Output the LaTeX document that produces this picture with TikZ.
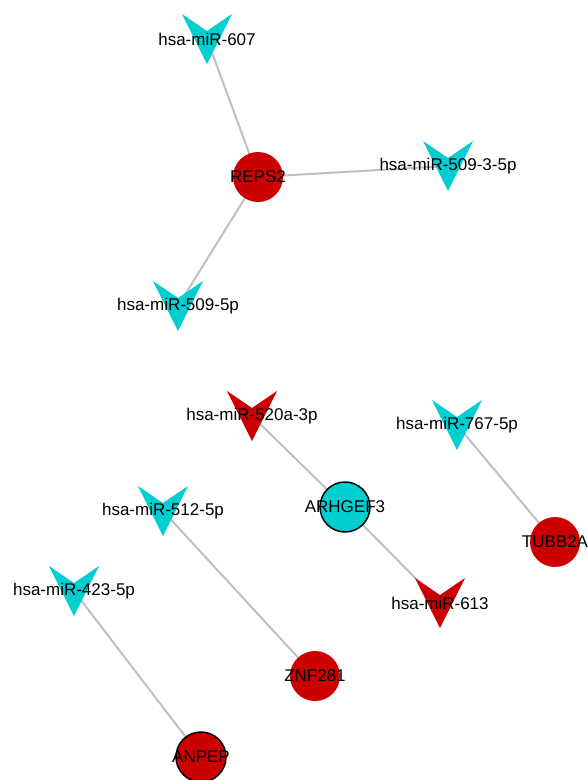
\documentclass[tikz,border=0pt]{standalone}
\usepackage{fontspec}
\setmainfont{Liberation Sans}
\usepackage{tikz}
\usetikzlibrary{backgrounds}
\definecolor{mirturq}{RGB}{0,206,209}
\definecolor{generouge}{RGB}{204,0,0}
\definecolor{liengris}{RGB}{192,192,192}

\tikzset{
  lbl/.style={inner sep=0pt, text=black},
  gene/.style={circle, minimum size=50pt, inner sep=0pt, text=black},
  edge/.style={draw=liengris, line width=2pt}
}
% V-shaped miRNA marker with its name on top
\newcommand{\mirna}[4]{%
  \fill[#3] (#2) ++(-25,-25) -- ++(25,17) -- ++(25,-17) -- ++(-25,50) -- cycle;
  \node[lbl] (#1) at (#2) {#4};}

\begin{document}
\begin{tikzpicture}[x=1pt, y=-1pt, font=\fontsize{17}{20}\selectfont]
  \useasboundingbox (0,0) rectangle (588,780);

  % genes
  \node[gene, fill=generouge] (reps2) at (258,177) {\makebox[0pt]{REPS2}};
  \node[gene, fill=mirturq, draw=black, line width=1.5pt] (arhgef3) at (345,507) {\makebox[0pt]{ARHGEF3}};
  \node[gene, fill=generouge] (tubb2a) at (555,542) {\makebox[0pt]{TUBB2A}};
  \node[gene, fill=generouge] (znf281) at (315,676) {\makebox[0pt]{ZNF281}};
  \node[gene, fill=generouge, draw=black, line width=1.5pt] (anpep) at (201,757) {\makebox[0pt]{ANPEP}};

  % miRNAs
  \mirna{m607}{207,39}{mirturq}{hsa-miR-607}
  \mirna{m5093}{448,166}{mirturq}{hsa-miR-509-3-5p}
  \mirna{m5095}{178,306}{mirturq}{hsa-miR-509-5p}
  \mirna{m520a}{252,416}{generouge}{hsa-miR-520a-3p}
  \mirna{m767}{457,425}{mirturq}{hsa-miR-767-5p}
  \mirna{m512}{163,511}{mirturq}{hsa-miR-512-5p}
  \mirna{m423}{74,591}{mirturq}{hsa-miR-423-5p}
  \mirna{m613}{440,603}{generouge}{hsa-miR-613}

  \begin{scope}[on background layer]
    \draw[edge] (reps2.center) -- (m607.center);
    \draw[edge] (reps2.center) -- (m5093.center);
    \draw[edge] (reps2.center) -- (m5095.center);
    \draw[edge] (arhgef3.center) -- (m520a.center);
    \draw[edge] (arhgef3.center) -- (m613.center);
    \draw[edge] (tubb2a.center) -- (m767.center);
    \draw[edge] (znf281.center) -- (m512.center);
    \draw[edge] (anpep.center) -- (m423.center);
  \end{scope}
\end{tikzpicture}
\end{document}
